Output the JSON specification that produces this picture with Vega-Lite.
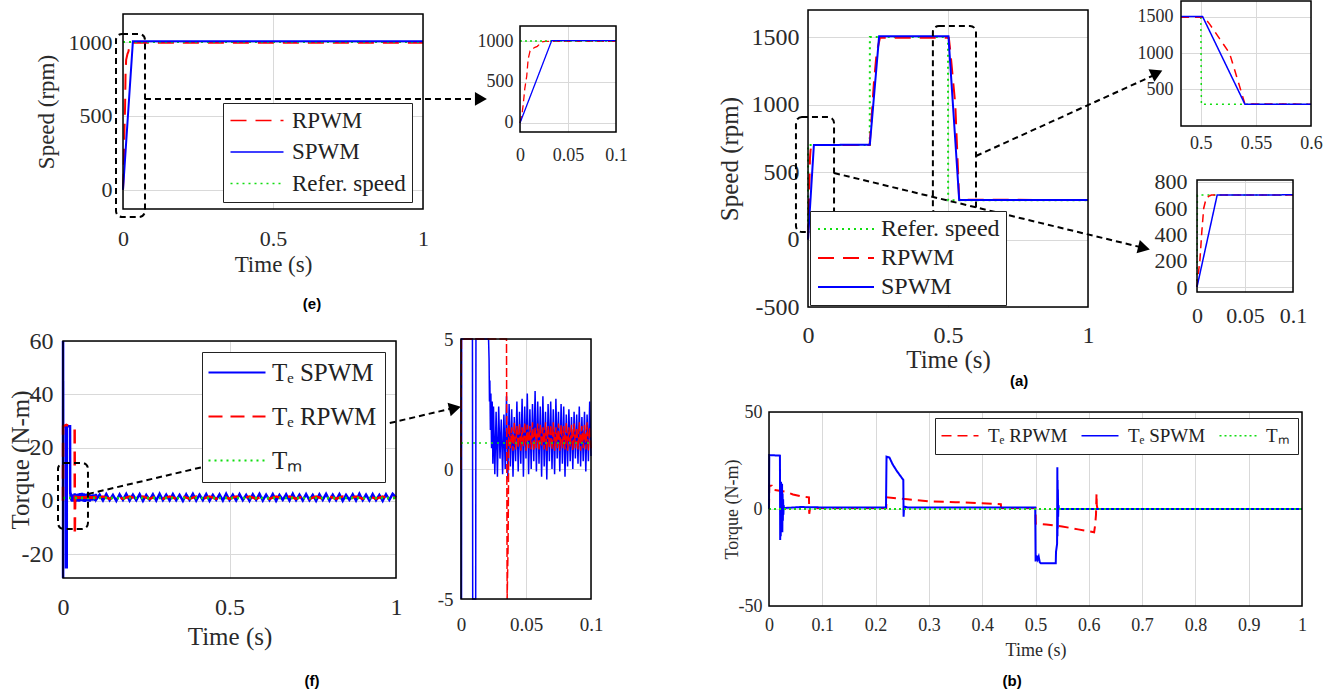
{
"$schema": "https://vega.github.io/schema/vega-lite/v6.json",
"width": 1333, "height": 690,
"autosize": {"type": "none"},
"padding": 0,
"background": "white",
"config": {
  "view": {"stroke": null},
  "axis": {"domain": false, "labelFont": "Liberation Serif", "titleFont": "Liberation Serif", "titleFontWeight": "normal", "labelColor": "#2a2a2a", "titleColor": "#2a2a2a", "labelFlush": false, "labelOverlap": false, "labelBound": false, "tickColor": "#d9d9d9", "gridColor": "#d9d9d9", "tickWidth": 1, "gridWidth": 1}
},
"datasets": {
 "e": [
  {"s":"RPWM","t":0,"v":0},{"s":"RPWM","t":0.002,"v":100},{"s":"RPWM","t":0.0035,"v":240},{"s":"RPWM","t":0.005,"v":420},{"s":"RPWM","t":0.007,"v":570},{"s":"RPWM","t":0.0085,"v":780},{"s":"RPWM","t":0.0105,"v":880},{"s":"RPWM","t":0.015,"v":920},{"s":"RPWM","t":0.018,"v":935},{"s":"RPWM","t":0.023,"v":990},{"s":"RPWM","t":0.026,"v":995},{"s":"RPWM","t":0.1,"v":995},{"s":"RPWM","t":1,"v":995},
  {"s":"Refer. speed","t":0,"v":1000},{"s":"Refer. speed","t":0.1,"v":1000},{"s":"Refer. speed","t":1,"v":1000},
  {"s":"SPWM","t":0,"v":0},{"s":"SPWM","t":0.033,"v":1005},{"s":"SPWM","t":0.1,"v":1005},{"s":"SPWM","t":1,"v":1005}
 ],
 "f": [
  {"s":"SPWM","t":0,"v":0},{"s":"SPWM","t":0.0001,"v":60},{"s":"SPWM","t":0.0002,"v":-29},{"s":"SPWM","t":0.0003,"v":60},{"s":"SPWM","t":0.0004,"v":-29},{"s":"SPWM","t":0.0005,"v":45},{"s":"SPWM","t":0.0006,"v":28},{"s":"SPWM","t":0.0088,"v":28},{"s":"SPWM","t":0.009,"v":-25},{"s":"SPWM","t":0.0113,"v":-25},{"s":"SPWM","t":0.0115,"v":28},{"s":"SPWM","t":0.0212,"v":28},{"s":"SPWM","t":0.0216,"v":4.2},{"s":"SPWM","t":0.0219,"v":2.6},{"s":"SPWM","t":0.0222,"v":3.4},{"s":"SPWM","t":0.0226,"v":1.5},{"s":"SPWM","t":0.023,"v":2.9},{"s":"SPWM","t":0.0235,"v":0.8},{"s":"SPWM","t":0.024,"v":2.6},{"s":"SPWM","t":0.0245,"v":0.2},{"s":"SPWM","t":0.025,"v":2.4},
  {"s":"SPWM","t":0.026,"v":-0.2},{"s":"SPWM","t":0.027,"v":2.2},{"s":"SPWM","t":0.028,"v":-0.3},{"s":"SPWM","t":0.029,"v":2.4},{"s":"SPWM","t":0.030,"v":0.4},{"s":"SPWM","t":0.031,"v":1.9},{"s":"SPWM","t":0.032,"v":-0.2},{"s":"SPWM","t":0.033,"v":2.1},{"s":"SPWM","t":0.034,"v":0.0},{"s":"SPWM","t":0.035,"v":2.8},{"s":"SPWM","t":0.036,"v":-0.4},{"s":"SPWM","t":0.037,"v":2.5},{"s":"SPWM","t":0.038,"v":0.1},{"s":"SPWM","t":0.039,"v":2.3},{"s":"SPWM","t":0.040,"v":-0.3},{"s":"SPWM","t":0.041,"v":2.0},{"s":"SPWM","t":0.042,"v":0.3},{"s":"SPWM","t":0.043,"v":2.6},{"s":"SPWM","t":0.044,"v":-0.1},{"s":"SPWM","t":0.045,"v":2.2},{"s":"SPWM","t":0.046,"v":0.2},{"s":"SPWM","t":0.047,"v":2.7},{"s":"SPWM","t":0.048,"v":-0.3},{"s":"SPWM","t":0.049,"v":2.4},{"s":"SPWM","t":0.050,"v":0.4},{"s":"SPWM","t":0.051,"v":2.9},{"s":"SPWM","t":0.052,"v":-0.2},{"s":"SPWM","t":0.053,"v":2.3},{"s":"SPWM","t":0.054,"v":0.0},{"s":"SPWM","t":0.055,"v":2.5},{"s":"SPWM","t":0.056,"v":0.3},{"s":"SPWM","t":0.057,"v":3.0},{"s":"SPWM","t":0.058,"v":-0.1},{"s":"SPWM","t":0.059,"v":2.6},{"s":"SPWM","t":0.060,"v":0.2},{"s":"SPWM","t":0.061,"v":2.4},{"s":"SPWM","t":0.062,"v":-0.3},{"s":"SPWM","t":0.063,"v":2.8},{"s":"SPWM","t":0.064,"v":0.1},{"s":"SPWM","t":0.065,"v":2.2},{"s":"SPWM","t":0.066,"v":-0.4},{"s":"SPWM","t":0.067,"v":2.5},{"s":"SPWM","t":0.068,"v":0.3},{"s":"SPWM","t":0.069,"v":2.6},{"s":"SPWM","t":0.070,"v":0.0},{"s":"SPWM","t":0.071,"v":2.3},{"s":"SPWM","t":0.072,"v":-0.2},{"s":"SPWM","t":0.073,"v":2.7},{"s":"SPWM","t":0.074,"v":0.4},{"s":"SPWM","t":0.075,"v":2.2},{"s":"SPWM","t":0.076,"v":-0.1},{"s":"SPWM","t":0.077,"v":2.5},{"s":"SPWM","t":0.078,"v":0.2},{"s":"SPWM","t":0.079,"v":2.4},{"s":"SPWM","t":0.080,"v":-0.3},{"s":"SPWM","t":0.081,"v":2.1},{"s":"SPWM","t":0.082,"v":0.1},{"s":"SPWM","t":0.083,"v":2.3},{"s":"SPWM","t":0.084,"v":0.3},{"s":"SPWM","t":0.085,"v":2.0},{"s":"SPWM","t":0.086,"v":0.0},{"s":"SPWM","t":0.087,"v":2.2},{"s":"SPWM","t":0.088,"v":0.4},{"s":"SPWM","t":0.089,"v":2.1},{"s":"SPWM","t":0.090,"v":0.2},{"s":"SPWM","t":0.091,"v":2.4},{"s":"SPWM","t":0.092,"v":0.1},{"s":"SPWM","t":0.093,"v":2.0},{"s":"SPWM","t":0.094,"v":0.3},{"s":"SPWM","t":0.095,"v":2.2},{"s":"SPWM","t":0.096,"v":-0.1},{"s":"SPWM","t":0.097,"v":2.1},{"s":"SPWM","t":0.098,"v":0.3},{"s":"SPWM","t":0.099,"v":2.6},{"s":"SPWM","t":0.100,"v":0.5},
  {"s":"SPWM","t":0.11,"v":2.3},{"s":"SPWM","t":0.12,"v":0.1},{"s":"SPWM","t":0.13,"v":2.5},{"s":"SPWM","t":0.14,"v":0.2},{"s":"SPWM","t":0.15,"v":2.2},{"s":"SPWM","t":0.16,"v":0.0},{"s":"SPWM","t":0.17,"v":2.4},{"s":"SPWM","t":0.18,"v":0.3},{"s":"SPWM","t":0.19,"v":2.6},{"s":"SPWM","t":0.20,"v":0.1},
  {"s":"SPWM","t":0.21,"v":2.3},{"s":"SPWM","t":0.22,"v":0.2},{"s":"SPWM","t":0.23,"v":2.5},{"s":"SPWM","t":0.24,"v":0.0},{"s":"SPWM","t":0.25,"v":2.2},{"s":"SPWM","t":0.26,"v":0.3},{"s":"SPWM","t":0.27,"v":2.4},{"s":"SPWM","t":0.28,"v":0.1},{"s":"SPWM","t":0.29,"v":2.6},{"s":"SPWM","t":0.30,"v":0.2},
  {"s":"SPWM","t":0.31,"v":2.3},{"s":"SPWM","t":0.32,"v":0.1},{"s":"SPWM","t":0.33,"v":2.5},{"s":"SPWM","t":0.34,"v":0.2},{"s":"SPWM","t":0.35,"v":2.2},{"s":"SPWM","t":0.36,"v":0.0},{"s":"SPWM","t":0.37,"v":2.4},{"s":"SPWM","t":0.38,"v":0.3},{"s":"SPWM","t":0.39,"v":2.6},{"s":"SPWM","t":0.40,"v":0.1},
  {"s":"SPWM","t":0.41,"v":2.3},{"s":"SPWM","t":0.42,"v":0.2},{"s":"SPWM","t":0.43,"v":2.5},{"s":"SPWM","t":0.44,"v":0.0},{"s":"SPWM","t":0.45,"v":2.2},{"s":"SPWM","t":0.46,"v":0.3},{"s":"SPWM","t":0.47,"v":2.4},{"s":"SPWM","t":0.48,"v":0.1},{"s":"SPWM","t":0.49,"v":2.6},{"s":"SPWM","t":0.50,"v":0.2},
  {"s":"SPWM","t":0.51,"v":2.3},{"s":"SPWM","t":0.52,"v":0.1},{"s":"SPWM","t":0.53,"v":2.5},{"s":"SPWM","t":0.54,"v":0.2},{"s":"SPWM","t":0.55,"v":2.2},{"s":"SPWM","t":0.56,"v":0.0},{"s":"SPWM","t":0.57,"v":2.4},{"s":"SPWM","t":0.58,"v":0.3},{"s":"SPWM","t":0.59,"v":2.6},{"s":"SPWM","t":0.60,"v":0.1},
  {"s":"SPWM","t":0.61,"v":2.3},{"s":"SPWM","t":0.62,"v":0.2},{"s":"SPWM","t":0.63,"v":2.5},{"s":"SPWM","t":0.64,"v":0.0},{"s":"SPWM","t":0.65,"v":2.2},{"s":"SPWM","t":0.66,"v":0.3},{"s":"SPWM","t":0.67,"v":2.4},{"s":"SPWM","t":0.68,"v":0.1},{"s":"SPWM","t":0.69,"v":2.6},{"s":"SPWM","t":0.70,"v":0.2},
  {"s":"SPWM","t":0.71,"v":2.3},{"s":"SPWM","t":0.72,"v":0.1},{"s":"SPWM","t":0.73,"v":2.5},{"s":"SPWM","t":0.74,"v":0.2},{"s":"SPWM","t":0.75,"v":2.2},{"s":"SPWM","t":0.76,"v":0.0},{"s":"SPWM","t":0.77,"v":2.4},{"s":"SPWM","t":0.78,"v":0.3},{"s":"SPWM","t":0.79,"v":2.6},{"s":"SPWM","t":0.80,"v":0.1},
  {"s":"SPWM","t":0.81,"v":2.3},{"s":"SPWM","t":0.82,"v":0.2},{"s":"SPWM","t":0.83,"v":2.5},{"s":"SPWM","t":0.84,"v":0.0},{"s":"SPWM","t":0.85,"v":2.2},{"s":"SPWM","t":0.86,"v":0.3},{"s":"SPWM","t":0.87,"v":2.4},{"s":"SPWM","t":0.88,"v":0.1},{"s":"SPWM","t":0.89,"v":2.6},{"s":"SPWM","t":0.90,"v":0.2},
  {"s":"SPWM","t":0.91,"v":2.3},{"s":"SPWM","t":0.92,"v":0.1},{"s":"SPWM","t":0.93,"v":2.5},{"s":"SPWM","t":0.94,"v":0.2},{"s":"SPWM","t":0.95,"v":2.2},{"s":"SPWM","t":0.96,"v":0.0},{"s":"SPWM","t":0.97,"v":2.4},{"s":"SPWM","t":0.98,"v":0.3},{"s":"SPWM","t":0.99,"v":2.6},{"s":"SPWM","t":1,"v":1.2},
  {"s":"RPWM","t":0,"v":0},{"s":"RPWM","t":0.0003,"v":28},{"s":"RPWM","t":0.01,"v":28.5},{"s":"RPWM","t":0.02,"v":28},{"s":"RPWM","t":0.03,"v":27.5},{"s":"RPWM","t":0.035,"v":27},{"s":"RPWM","t":0.0355,"v":-13},{"s":"RPWM","t":0.0362,"v":-3},{"s":"RPWM","t":0.0368,"v":1.6},
  {"s":"RPWM","t":0.037,"v":1.7},{"s":"RPWM","t":0.038,"v":0.8},{"s":"RPWM","t":0.039,"v":1.6},{"s":"RPWM","t":0.040,"v":0.7},{"s":"RPWM","t":0.041,"v":1.8},{"s":"RPWM","t":0.042,"v":0.75},{"s":"RPWM","t":0.043,"v":1.65},{"s":"RPWM","t":0.044,"v":0.8},{"s":"RPWM","t":0.045,"v":1.75},{"s":"RPWM","t":0.046,"v":0.7},{"s":"RPWM","t":0.047,"v":1.6},{"s":"RPWM","t":0.048,"v":0.85},{"s":"RPWM","t":0.049,"v":1.8},{"s":"RPWM","t":0.050,"v":0.7},{"s":"RPWM","t":0.051,"v":1.7},{"s":"RPWM","t":0.052,"v":0.8},{"s":"RPWM","t":0.053,"v":1.65},{"s":"RPWM","t":0.054,"v":0.75},{"s":"RPWM","t":0.055,"v":1.8},{"s":"RPWM","t":0.056,"v":0.7},{"s":"RPWM","t":0.057,"v":1.6},{"s":"RPWM","t":0.058,"v":0.8},{"s":"RPWM","t":0.059,"v":1.75},{"s":"RPWM","t":0.060,"v":0.7},{"s":"RPWM","t":0.061,"v":1.7},{"s":"RPWM","t":0.062,"v":0.85},{"s":"RPWM","t":0.063,"v":1.6},{"s":"RPWM","t":0.064,"v":0.75},{"s":"RPWM","t":0.065,"v":1.8},{"s":"RPWM","t":0.066,"v":0.7},{"s":"RPWM","t":0.067,"v":1.65},{"s":"RPWM","t":0.068,"v":0.8},{"s":"RPWM","t":0.069,"v":1.7},{"s":"RPWM","t":0.070,"v":0.75},{"s":"RPWM","t":0.071,"v":1.8},{"s":"RPWM","t":0.072,"v":0.7},{"s":"RPWM","t":0.073,"v":1.6},{"s":"RPWM","t":0.074,"v":0.8},{"s":"RPWM","t":0.075,"v":1.75},{"s":"RPWM","t":0.076,"v":0.7},{"s":"RPWM","t":0.077,"v":1.7},{"s":"RPWM","t":0.078,"v":0.8},{"s":"RPWM","t":0.079,"v":1.65},{"s":"RPWM","t":0.080,"v":0.75},{"s":"RPWM","t":0.081,"v":1.8},{"s":"RPWM","t":0.082,"v":0.7},{"s":"RPWM","t":0.083,"v":1.6},{"s":"RPWM","t":0.084,"v":0.85},{"s":"RPWM","t":0.085,"v":1.7},{"s":"RPWM","t":0.086,"v":0.7},{"s":"RPWM","t":0.087,"v":1.75},{"s":"RPWM","t":0.088,"v":0.8},{"s":"RPWM","t":0.089,"v":1.6},{"s":"RPWM","t":0.090,"v":0.75},{"s":"RPWM","t":0.091,"v":1.8},{"s":"RPWM","t":0.092,"v":0.7},{"s":"RPWM","t":0.093,"v":1.65},{"s":"RPWM","t":0.094,"v":0.8},{"s":"RPWM","t":0.095,"v":1.7},{"s":"RPWM","t":0.096,"v":0.75},{"s":"RPWM","t":0.097,"v":1.8},{"s":"RPWM","t":0.098,"v":0.7},{"s":"RPWM","t":0.099,"v":1.6},{"s":"RPWM","t":0.100,"v":0.8},
  {"s":"RPWM","t":0.12,"v":1.6},{"s":"RPWM","t":0.14,"v":0.8},{"s":"RPWM","t":0.16,"v":1.6},{"s":"RPWM","t":0.18,"v":0.8},{"s":"RPWM","t":0.20,"v":1.6},{"s":"RPWM","t":0.22,"v":0.8},{"s":"RPWM","t":0.24,"v":1.6},{"s":"RPWM","t":0.26,"v":0.8},{"s":"RPWM","t":0.28,"v":1.6},{"s":"RPWM","t":0.30,"v":0.8},{"s":"RPWM","t":0.32,"v":1.6},{"s":"RPWM","t":0.34,"v":0.8},{"s":"RPWM","t":0.36,"v":1.6},{"s":"RPWM","t":0.38,"v":0.8},{"s":"RPWM","t":0.40,"v":1.6},{"s":"RPWM","t":0.42,"v":0.8},{"s":"RPWM","t":0.44,"v":1.6},{"s":"RPWM","t":0.46,"v":0.8},{"s":"RPWM","t":0.48,"v":1.6},{"s":"RPWM","t":0.50,"v":0.8},{"s":"RPWM","t":0.52,"v":1.6},{"s":"RPWM","t":0.54,"v":0.8},{"s":"RPWM","t":0.56,"v":1.6},{"s":"RPWM","t":0.58,"v":0.8},{"s":"RPWM","t":0.60,"v":1.6},{"s":"RPWM","t":0.62,"v":0.8},{"s":"RPWM","t":0.64,"v":1.6},{"s":"RPWM","t":0.66,"v":0.8},{"s":"RPWM","t":0.68,"v":1.6},{"s":"RPWM","t":0.70,"v":0.8},{"s":"RPWM","t":0.72,"v":1.6},{"s":"RPWM","t":0.74,"v":0.8},{"s":"RPWM","t":0.76,"v":1.6},{"s":"RPWM","t":0.78,"v":0.8},{"s":"RPWM","t":0.80,"v":1.6},{"s":"RPWM","t":0.82,"v":0.8},{"s":"RPWM","t":0.84,"v":1.6},{"s":"RPWM","t":0.86,"v":0.8},{"s":"RPWM","t":0.88,"v":1.6},{"s":"RPWM","t":0.90,"v":0.8},{"s":"RPWM","t":0.92,"v":1.6},{"s":"RPWM","t":0.94,"v":0.8},{"s":"RPWM","t":0.96,"v":1.6},{"s":"RPWM","t":0.98,"v":0.8},{"s":"RPWM","t":1,"v":1.3},
  {"s":"Tm","t":0,"v":1},{"s":"Tm","t":0.1,"v":1},{"s":"Tm","t":1,"v":1}
 ],
 "a": [
  {"s":"Refer. speed","t":0,"v":0},{"s":"Refer. speed","t":0.0004,"v":700},{"s":"Refer. speed","t":0.22,"v":700},{"s":"Refer. speed","t":0.2205,"v":700},{"s":"Refer. speed","t":0.221,"v":1500},{"s":"Refer. speed","t":0.5,"v":1500},{"s":"Refer. speed","t":0.5005,"v":290},{"s":"Refer. speed","t":1,"v":290},
  {"s":"RPWM","t":0,"v":0},{"s":"RPWM","t":0.001,"v":80},{"s":"RPWM","t":0.003,"v":200},{"s":"RPWM","t":0.005,"v":420},{"s":"RPWM","t":0.007,"v":600},{"s":"RPWM","t":0.009,"v":660},{"s":"RPWM","t":0.012,"v":690},{"s":"RPWM","t":0.015,"v":700},{"s":"RPWM","t":0.22,"v":700},{"s":"RPWM","t":0.227,"v":900},{"s":"RPWM","t":0.235,"v":1150},{"s":"RPWM","t":0.245,"v":1380},{"s":"RPWM","t":0.257,"v":1495},{"s":"RPWM","t":0.503,"v":1495},{"s":"RPWM","t":0.508,"v":1400},{"s":"RPWM","t":0.517,"v":1200},{"s":"RPWM","t":0.526,"v":1000},{"s":"RPWM","t":0.534,"v":600},{"s":"RPWM","t":0.54,"v":295},{"s":"RPWM","t":1,"v":292},
  {"s":"SPWM","t":0,"v":0},{"s":"SPWM","t":0.021,"v":700},{"s":"SPWM","t":0.22,"v":702},{"s":"SPWM","t":0.221,"v":705},{"s":"SPWM","t":0.254,"v":1505},{"s":"SPWM","t":0.5016,"v":1505},{"s":"SPWM","t":0.54,"v":292},{"s":"SPWM","t":1,"v":292}
 ],
 "b": [
  {"s":"RPWM","t":0,"v":0},{"s":"RPWM","t":0.0005,"v":12},{"s":"RPWM","t":0.005,"v":12},{"s":"RPWM","t":0.006,"v":10},{"s":"RPWM","t":0.03,"v":9},{"s":"RPWM","t":0.045,"v":7.5},{"s":"RPWM","t":0.06,"v":6.5},{"s":"RPWM","t":0.075,"v":6},{"s":"RPWM","t":0.0755,"v":-2.5},{"s":"RPWM","t":0.077,"v":0.5},{"s":"RPWM","t":0.22,"v":0.5},{"s":"RPWM","t":0.2205,"v":6},{"s":"RPWM","t":0.26,"v":5},{"s":"RPWM","t":0.3,"v":4},{"s":"RPWM","t":0.35,"v":3.5},{"s":"RPWM","t":0.4,"v":3},{"s":"RPWM","t":0.435,"v":2.5},{"s":"RPWM","t":0.4355,"v":0.5},{"s":"RPWM","t":0.5,"v":0.5},{"s":"RPWM","t":0.5005,"v":-7.5},{"s":"RPWM","t":0.52,"v":-8},{"s":"RPWM","t":0.55,"v":-9},{"s":"RPWM","t":0.58,"v":-10.5},{"s":"RPWM","t":0.6,"v":-11.5},{"s":"RPWM","t":0.61,"v":-12},{"s":"RPWM","t":0.612,"v":-8},{"s":"RPWM","t":0.6135,"v":-3},{"s":"RPWM","t":0.6145,"v":8},{"s":"RPWM","t":0.615,"v":2},{"s":"RPWM","t":0.617,"v":-1},{"s":"RPWM","t":0.62,"v":0},{"s":"RPWM","t":1,"v":0},
  {"s":"SPWM","t":0,"v":0},{"s":"SPWM","t":0.0005,"v":27.8},{"s":"SPWM","t":0.0205,"v":27.5},{"s":"SPWM","t":0.021,"v":-16},{"s":"SPWM","t":0.0215,"v":12},{"s":"SPWM","t":0.022,"v":-14},{"s":"SPWM","t":0.0225,"v":14},{"s":"SPWM","t":0.023,"v":-10},{"s":"SPWM","t":0.0235,"v":11},{"s":"SPWM","t":0.024,"v":-8},{"s":"SPWM","t":0.0245,"v":13},{"s":"SPWM","t":0.025,"v":-12},{"s":"SPWM","t":0.0255,"v":8},{"s":"SPWM","t":0.026,"v":-6},{"s":"SPWM","t":0.0265,"v":5},{"s":"SPWM","t":0.027,"v":-3},{"s":"SPWM","t":0.0275,"v":2},{"s":"SPWM","t":0.028,"v":0.5},{"s":"SPWM","t":0.06,"v":1},{"s":"SPWM","t":0.1,"v":0.8},{"s":"SPWM","t":0.2195,"v":0.8},{"s":"SPWM","t":0.2205,"v":27},{"s":"SPWM","t":0.226,"v":26.5},{"s":"SPWM","t":0.232,"v":23},{"s":"SPWM","t":0.24,"v":19.5},{"s":"SPWM","t":0.248,"v":16.5},{"s":"SPWM","t":0.252,"v":15},{"s":"SPWM","t":0.2525,"v":-4},{"s":"SPWM","t":0.2535,"v":1.2},{"s":"SPWM","t":0.26,"v":0.8},{"s":"SPWM","t":0.4995,"v":0.8},{"s":"SPWM","t":0.5002,"v":-27},{"s":"SPWM","t":0.502,"v":-24},{"s":"SPWM","t":0.504,"v":-26},{"s":"SPWM","t":0.506,"v":-24.5},{"s":"SPWM","t":0.508,"v":-27.5},{"s":"SPWM","t":0.51,"v":-28},{"s":"SPWM","t":0.538,"v":-28},{"s":"SPWM","t":0.5385,"v":-22},{"s":"SPWM","t":0.5405,"v":-18},{"s":"SPWM","t":0.541,"v":21.5},{"s":"SPWM","t":0.5412,"v":-14},{"s":"SPWM","t":0.5415,"v":15},{"s":"SPWM","t":0.5418,"v":-10},{"s":"SPWM","t":0.542,"v":10},{"s":"SPWM","t":0.5425,"v":-4},{"s":"SPWM","t":0.543,"v":2},{"s":"SPWM","t":0.544,"v":0},{"s":"SPWM","t":1,"v":0},
  {"s":"Tm","t":0,"v":0},{"s":"Tm","t":1,"v":0}
 ]
},
"layer": [
 {
  "data": {"name": "e"},
  "layer": [
   {"mark": {"type": "line", "strokeWidth": 2},
    "encoding": {
     "x": {"field": "t", "type": "quantitative", "scale": {"domain": [0, 1], "range": [123, 423], "nice": false, "zero": false},
       "axis": {"orient": "bottom", "offset": -481, "values": [0, 0.5, 1], "labelExpr": "'' + datum.value", "grid": false, "tickSize": -195, "labelPadding": 214, "labelFontSize": 22, "title": "Time (s)", "titleFontSize": 23, "titlePadding": 4}},
     "y": {"field": "v", "type": "quantitative", "scale": {"domain": [-130, 1190], "range": [209, 14], "nice": false, "zero": false},
       "axis": {"orient": "left", "offset": -123, "values": [0, 500, 1000], "labelExpr": "'' + datum.value", "ticks": false, "tickSize": 0, "grid": true, "labelPadding": 11, "labelFontSize": 22, "title": "Speed (rpm)", "titleFontSize": 23, "titlePadding": 10}},
     "color": {"field": "s", "type": "nominal", "scale": {"domain": ["RPWM", "SPWM", "Refer. speed"], "range": ["#ff0000", "#0000ff", "#11dd11"]},
       "legend": {"orient": "none", "legendX": 223, "legendY": 103, "title": null, "strokeColor": "#222", "fillColor": "white", "padding": 6, "symbolType": "M-2,0H8.6", "symbolSize": 100, "symbolStrokeWidth": 1.6, "labelOffset": 40, "labelFont": "Liberation Serif", "labelFontSize": 23, "labelColor": "#222", "rowPadding": 7.5, "labelLimit": 400}},
     "strokeDash": {"field": "s", "type": "nominal", "scale": {"domain": ["RPWM", "SPWM", "Refer. speed"], "range": [[16, 9], [1, 0], [2, 4]]}}
    }},
   {"data": {"values": [{}]}, "mark": {"type": "rect", "filled": false, "stroke": "black", "strokeWidth": 1.5},
    "encoding": {"x": {"datum": 0}, "x2": {"datum": 1}, "y": {"datum": -130}, "y2": {"datum": 1190}}},
   {"data": {"values": [{}]}, "mark": {"type": "rect", "filled": false, "stroke": "black", "strokeWidth": 2, "strokeDash": [6, 4], "cornerRadius": 6},
    "encoding": {"x": {"datum": -0.0233}, "x2": {"datum": 0.0733}, "y": {"datum": 1055}, "y2": {"datum": -184}}},
   {"data": {"values": [{}]}, "mark": {"type": "rule", "stroke": "black", "strokeWidth": 2, "strokeDash": [6, 4]},
    "encoding": {"x": {"datum": 0.0733}, "x2": {"datum": 1.173}, "y": {"datum": 615}, "y2": {"datum": 615}}},
   {"data": {"values": [{}]}, "mark": {"type": "point", "shape": "triangle-right", "filled": true, "color": "black", "opacity": 1, "size": 190, "angle": 0},
    "encoding": {"x": {"datum": 1.193}, "y": {"datum": 615}}},
   {"data": {"values": [{}]}, "mark": {"type": "text", "text": "(e)", "font": "Liberation Sans", "fontWeight": "bold", "fontSize": 15, "color": "black"},
    "encoding": {"x": {"datum": 0.63}, "y": {"datum": -773}}}
  ]
 },
 {
  "data": {"name": "e"},
  "layer": [
   {"transform": [{"filter": "datum.t <= 0.1"}], "mark": {"type": "line", "strokeWidth": 1.3},
    "encoding": {
     "x": {"field": "t", "type": "quantitative", "scale": {"domain": [0, 0.1], "range": [520, 616], "nice": false, "zero": false, "clamp": true},
       "axis": {"orient": "bottom", "offset": -558, "values": [0, 0.05, 0.1], "labelExpr": "'' + datum.value", "grid": false, "tickSize": -106, "labelPadding": 120, "labelFontSize": 18, "title": null}},
     "y": {"field": "v", "type": "quantitative", "scale": {"domain": [-110, 1183], "range": [132, 26], "nice": false, "zero": false, "clamp": true},
       "axis": {"orient": "left", "offset": -520, "values": [0, 500, 1000], "labelExpr": "'' + datum.value", "ticks": false, "tickSize": 0, "grid": true, "labelPadding": 7, "labelFontSize": 18, "title": null}},
     "color": {"field": "s", "type": "nominal", "scale": {"domain": ["RPWM", "SPWM", "Refer. speed"], "range": ["#ff0000", "#0000ff", "#11dd11"]}, "legend": null},
     "strokeDash": {"field": "s", "type": "nominal", "scale": {"domain": ["RPWM", "SPWM", "Refer. speed"], "range": [[7, 4], [1, 0], [2, 3]]}, "legend": null}
    }},
   {"data": {"values": [{}]}, "mark": {"type": "rect", "filled": false, "stroke": "black", "strokeWidth": 1.5},
    "encoding": {"x": {"datum": 0}, "x2": {"datum": 0.1}, "y": {"datum": -110}, "y2": {"datum": 1183}}}
  ]
 },
 {
  "data": {"name": "f"},
  "layer": [
   {"mark": {"type": "line", "strokeWidth": 2.5},
    "encoding": {
     "x": {"field": "t", "type": "quantitative", "scale": {"domain": [0, 1], "range": [63, 396], "nice": false, "zero": false},
       "axis": {"orient": "bottom", "offset": -112, "values": [0, 0.5, 1], "labelExpr": "'' + datum.value", "grid": false, "tickSize": -237, "labelPadding": 254, "labelFontSize": 24, "title": "Time (s)", "titleFontSize": 25, "titlePadding": 5}},
     "y": {"field": "v", "type": "quantitative", "scale": {"domain": [-29, 60], "range": [578, 341], "nice": false, "zero": false},
       "axis": {"orient": "left", "offset": -63, "values": [-20, 0, 20, 40, 60], "labelExpr": "'' + datum.value", "ticks": false, "tickSize": 0, "grid": true, "labelPadding": 10, "labelFontSize": 24, "title": "Torque (N-m)", "titleFontSize": 25, "titlePadding": -12}},
     "color": {"field": "s", "type": "nominal", "scale": {"domain": ["SPWM", "RPWM", "Tm"], "range": ["#0000ff", "#ff0000", "#11dd11"]},
       "legend": {"orient": "none", "legendX": 202, "legendY": 352, "title": null, "strokeColor": "#222", "fillColor": "white", "padding": 8, "symbolType": "M-2.8,0H8.6", "symbolSize": 100, "symbolStrokeWidth": 1.8, "labelOffset": 37, "labelFont": "Liberation Serif", "labelFontSize": 25, "labelColor": "#222", "rowPadding": 18, "labelLimit": 400,
         "labelExpr": "datum.label == 'Tm' ? 'Tₘ' : 'Tₑ ' + datum.label"}},
     "strokeDash": {"field": "s", "type": "nominal", "scale": {"domain": ["SPWM", "RPWM", "Tm"], "range": [[1, 0], [14, 8], [2, 4]]}}
    }},
   {"data": {"values": [{}]}, "mark": {"type": "rect", "filled": false, "stroke": "black", "strokeWidth": 1.5},
    "encoding": {"x": {"datum": 0}, "x2": {"datum": 1}, "y": {"datum": -29}, "y2": {"datum": 60}}},
   {"data": {"values": [{}]}, "mark": {"type": "rect", "filled": false, "stroke": "black", "strokeWidth": 2, "strokeDash": [6, 4], "cornerRadius": 6},
    "encoding": {"x": {"datum": -0.015}, "x2": {"datum": 0.075}, "y": {"datum": 14.2}, "y2": {"datum": -10.6}}},
   {"data": {"values": [{}]}, "mark": {"type": "rule", "stroke": "black", "strokeWidth": 2, "strokeDash": [6, 4]},
    "encoding": {"x": {"datum": 0.075}, "x2": {"datum": 1.162}, "y": {"datum": 2.55}, "y2": {"datum": 34.5}}},
   {"data": {"values": [{}]}, "mark": {"type": "point", "shape": "triangle-right", "filled": true, "color": "black", "opacity": 1, "size": 190, "angle": 346.8},
    "encoding": {"x": {"datum": 1.177}, "y": {"datum": 34.8}}},
   {"data": {"values": [{}]}, "mark": {"type": "text", "text": "(f)", "font": "Liberation Sans", "fontWeight": "bold", "fontSize": 15, "color": "black"},
    "encoding": {"x": {"datum": 0.748}, "y": {"datum": -67.7}}}
  ]
 },
 {
  "data": {"name": "f"},
  "layer": [
   {"transform": [{"filter": "datum.t <= 0.1"}], "mark": {"type": "line", "strokeWidth": 1.5},
    "encoding": {
     "x": {"field": "t", "type": "quantitative", "scale": {"domain": [0, 0.1], "range": [461, 591], "nice": false, "zero": false, "clamp": true},
       "axis": {"orient": "bottom", "offset": -91, "values": [0, 0.05, 0.1], "labelExpr": "'' + datum.value", "grid": false, "tickSize": -260, "labelPadding": 276, "labelFontSize": 19, "title": null}},
     "y": {"field": "v", "type": "quantitative", "scale": {"domain": [-5, 5], "range": [599, 339], "nice": false, "zero": false, "clamp": true},
       "axis": {"orient": "left", "offset": -461, "values": [-5, 0, 5], "labelExpr": "'' + datum.value", "ticks": false, "tickSize": 0, "grid": true, "labelPadding": 8, "labelFontSize": 19, "title": null}},
     "color": {"field": "s", "type": "nominal", "scale": {"domain": ["SPWM", "RPWM", "Tm"], "range": ["#0000ff", "#ff0000", "#11dd11"]}, "legend": null},
     "strokeDash": {"field": "s", "type": "nominal", "scale": {"domain": ["SPWM", "RPWM", "Tm"], "range": [[1, 0], [9, 3], [2, 4]]}, "legend": null}
    }},
   {"data": {"values": [{}]}, "mark": {"type": "rect", "filled": false, "stroke": "black", "strokeWidth": 1.5},
    "encoding": {"x": {"datum": 0}, "x2": {"datum": 0.1}, "y": {"datum": -5}, "y2": {"datum": 5}}}
  ]
 },
 {
  "data": {"name": "a"},
  "layer": [
   {"mark": {"type": "line", "strokeWidth": 2},
    "encoding": {
     "x": {"field": "t", "type": "quantitative", "scale": {"domain": [0, 1], "range": [808, 1088], "nice": false, "zero": false},
       "axis": {"orient": "bottom", "offset": -383, "values": [0, 0.5, 1], "labelExpr": "'' + datum.value", "grid": false, "tickSize": -297, "labelPadding": 313, "labelFontSize": 24, "title": "Time (s)", "titleFontSize": 25, "titlePadding": 0}},
     "y": {"field": "v", "type": "quantitative", "scale": {"domain": [-500, 1700], "range": [307, 10], "nice": false, "zero": false},
       "axis": {"orient": "left", "offset": -808, "values": [-500, 0, 500, 1000, 1500], "labelExpr": "'' + datum.value", "ticks": false, "tickSize": 0, "grid": true, "labelPadding": 9, "labelFontSize": 24, "title": "Speed (rpm)", "titleFontSize": 25, "titlePadding": 9}},
     "color": {"field": "s", "type": "nominal", "scale": {"domain": ["Refer. speed", "RPWM", "SPWM"], "range": ["#11dd11", "#ff0000", "#0000ff"]},
       "legend": {"orient": "none", "legendX": 810, "legendY": 211, "title": null, "strokeColor": "#222", "fillColor": "white", "padding": 6, "symbolType": "M-2,0H9.2", "symbolSize": 100, "symbolStrokeWidth": 1.8, "labelOffset": 41, "labelFont": "Liberation Serif", "labelFontSize": 24, "labelColor": "#222", "rowPadding": 5, "labelLimit": 400}},
     "strokeDash": {"field": "s", "type": "nominal", "scale": {"domain": ["Refer. speed", "RPWM", "SPWM"], "range": [[2, 4], [16, 9], [1, 0]]}}
    }},
   {"data": {"values": [{}]}, "mark": {"type": "rect", "filled": false, "stroke": "black", "strokeWidth": 1.5},
    "encoding": {"x": {"datum": 0}, "x2": {"datum": 1}, "y": {"datum": -500}, "y2": {"datum": 1700}}},
   {"data": {"values": [{}]}, "mark": {"type": "rect", "filled": false, "stroke": "black", "strokeWidth": 2, "strokeDash": [6, 4], "cornerRadius": 6},
    "encoding": {"x": {"datum": -0.043}, "x2": {"datum": 0.093}, "y": {"datum": 907}, "y2": {"datum": 55.6}}},
   {"data": {"values": [{}]}, "mark": {"type": "rect", "filled": false, "stroke": "black", "strokeWidth": 2, "strokeDash": [6, 4], "cornerRadius": 6},
    "encoding": {"x": {"datum": 0.446}, "x2": {"datum": 0.6}, "y": {"datum": 1581.5}, "y2": {"datum": 181.5}}},
   {"data": {"values": [{}]}, "mark": {"type": "rule", "stroke": "black", "strokeWidth": 2, "strokeDash": [6, 4]},
    "encoding": {"x": {"datum": 0.6}, "x2": {"datum": 1.229}, "y": {"datum": 618.5}, "y2": {"datum": 1211}}},
   {"data": {"values": [{}]}, "mark": {"type": "point", "shape": "triangle-right", "filled": true, "color": "black", "opacity": 1, "size": 190, "angle": 335},
    "encoding": {"x": {"datum": 1.246}, "y": {"datum": 1233}}},
   {"data": {"values": [{}]}, "mark": {"type": "rule", "stroke": "black", "strokeWidth": 2, "strokeDash": [6, 4]},
    "encoding": {"x": {"datum": 0.093}, "x2": {"datum": 1.186}, "y": {"datum": 492.6}, "y2": {"datum": -55.6}}},
   {"data": {"values": [{}]}, "mark": {"type": "point", "shape": "triangle-right", "filled": true, "color": "black", "opacity": 1, "size": 190, "angle": 13.6},
    "encoding": {"x": {"datum": 1.2}, "y": {"datum": -63}}},
   {"data": {"values": [{}]}, "mark": {"type": "text", "text": "(a)", "font": "Liberation Sans", "fontWeight": "bold", "fontSize": 15, "color": "black"},
    "encoding": {"x": {"datum": 0.754}, "y": {"datum": -1048}}}
  ]
 },
 {
  "data": {"name": "a"},
  "layer": [
   {"transform": [{"filter": "datum.t >= 0.25"}], "mark": {"type": "line", "strokeWidth": 1.5},
    "encoding": {
     "x": {"field": "t", "type": "quantitative", "scale": {"domain": [0.482, 0.6], "range": [1181, 1311], "nice": false, "zero": false, "clamp": true},
       "axis": {"orient": "bottom", "offset": -564, "values": [0.5, 0.55, 0.6], "labelExpr": "'' + datum.value", "grid": false, "tickSize": -125, "labelPadding": 133, "labelFontSize": 18, "title": null}},
     "y": {"field": "v", "type": "quantitative", "scale": {"domain": [-10, 1720], "range": [126, 1], "nice": false, "zero": false, "clamp": true},
       "axis": {"orient": "left", "offset": -1181, "values": [500, 1000, 1500], "labelExpr": "'' + datum.value", "ticks": false, "tickSize": 0, "grid": true, "labelPadding": 8, "labelFontSize": 18, "title": null}},
     "color": {"field": "s", "type": "nominal", "scale": {"domain": ["Refer. speed", "RPWM", "SPWM"], "range": ["#11dd11", "#ff0000", "#0000ff"]}, "legend": null},
     "strokeDash": {"field": "s", "type": "nominal", "scale": {"domain": ["Refer. speed", "RPWM", "SPWM"], "range": [[2, 4], [8, 6], [1, 0]]}, "legend": null}
    }},
   {"data": {"values": [{}]}, "mark": {"type": "rect", "filled": false, "stroke": "black", "strokeWidth": 1.5},
    "encoding": {"x": {"datum": 0.482}, "x2": {"datum": 0.6}, "y": {"datum": -10}, "y2": {"datum": 1720}}}
  ]
 },
 {
  "data": {"name": "a"},
  "layer": [
   {"transform": [{"filter": "datum.t <= 0.22"}], "mark": {"type": "line", "strokeWidth": 1.5},
    "encoding": {
     "x": {"field": "t", "type": "quantitative", "scale": {"domain": [0, 0.1], "range": [1197, 1293], "nice": false, "zero": false, "clamp": true},
       "axis": {"orient": "bottom", "offset": -398, "values": [0, 0.05, 0.1], "labelExpr": "'' + datum.value", "grid": false, "tickSize": -112, "labelPadding": 125, "labelFontSize": 22, "title": null}},
     "y": {"field": "v", "type": "quantitative", "scale": {"domain": [-38, 815], "range": [292, 180], "nice": false, "zero": false, "clamp": true},
       "axis": {"orient": "left", "offset": -1197, "values": [0, 200, 400, 600, 800], "labelExpr": "'' + datum.value", "ticks": false, "tickSize": 0, "grid": true, "labelPadding": 10, "labelFontSize": 22, "title": null}},
     "color": {"field": "s", "type": "nominal", "scale": {"domain": ["Refer. speed", "RPWM", "SPWM"], "range": ["#11dd11", "#ff0000", "#0000ff"]}, "legend": null},
     "strokeDash": {"field": "s", "type": "nominal", "scale": {"domain": ["Refer. speed", "RPWM", "SPWM"], "range": [[2, 4], [8, 5], [1, 0]]}, "legend": null}
    }},
   {"data": {"values": [{}]}, "mark": {"type": "rect", "filled": false, "stroke": "black", "strokeWidth": 1.5},
    "encoding": {"x": {"datum": 0}, "x2": {"datum": 0.1}, "y": {"datum": -38}, "y2": {"datum": 815}}}
  ]
 },
 {
  "data": {"name": "b"},
  "layer": [
   {"mark": {"type": "line", "strokeWidth": 2},
    "encoding": {
     "x": {"field": "t", "type": "quantitative", "scale": {"domain": [0, 1], "range": [769, 1302], "nice": false, "zero": false},
       "axis": {"orient": "bottom", "offset": -84, "values": [0, 0.1, 0.2, 0.3, 0.4, 0.5, 0.6, 0.7, 0.8, 0.9, 1], "labelExpr": "'' + datum.value", "grid": false, "tickSize": -194, "labelPadding": 204, "labelFontSize": 18, "title": "Time (s)", "titleFontSize": 18, "titlePadding": 7}},
     "y": {"field": "v", "type": "quantitative", "scale": {"domain": [-50, 50], "range": [606, 412], "nice": false, "zero": false},
       "axis": {"orient": "left", "offset": -769, "values": [-50, 0, 50], "labelExpr": "'' + datum.value", "ticks": false, "tickSize": 0, "grid": true, "labelPadding": 7, "labelFontSize": 18, "title": "Torque (N-m)", "titleFontSize": 18, "titlePadding": -3}},
     "color": {"field": "s", "type": "nominal", "scale": {"domain": ["RPWM", "SPWM", "Tm"], "range": ["#ff0000", "#0000ff", "#11dd11"]},
       "legend": {"orient": "none", "legendX": 935, "legendY": 418, "direction": "horizontal", "columns": 3, "columnPadding": 10, "title": null, "strokeColor": "#222", "fillColor": "white", "padding": 8, "symbolType": "M-2.2,0H5.2", "symbolSize": 100, "symbolStrokeWidth": 1.6, "labelOffset": 26, "labelFont": "Liberation Serif", "labelFontSize": 19, "labelColor": "#222", "labelLimit": 400,
         "labelExpr": "datum.label == 'Tm' ? 'Tₘ' : 'Tₑ ' + datum.label"}},
     "strokeDash": {"field": "s", "type": "nominal", "scale": {"domain": ["RPWM", "SPWM", "Tm"], "range": [[10, 6], [1, 0], [2, 3]]}}
    }},
   {"data": {"values": [{}]}, "mark": {"type": "rect", "filled": false, "stroke": "black", "strokeWidth": 1.5},
    "encoding": {"x": {"datum": 0}, "x2": {"datum": 1}, "y": {"datum": -50}, "y2": {"datum": 50}}},
   {"data": {"values": [{}]}, "mark": {"type": "text", "text": "(b)", "font": "Liberation Sans", "fontWeight": "bold", "fontSize": 15, "color": "black"},
    "encoding": {"x": {"datum": 0.456}, "y": {"datum": -88.7}}}
  ]
 }
],
"resolve": {"scale": {"x": "independent", "y": "independent", "color": "independent", "strokeDash": "independent"}}
}
